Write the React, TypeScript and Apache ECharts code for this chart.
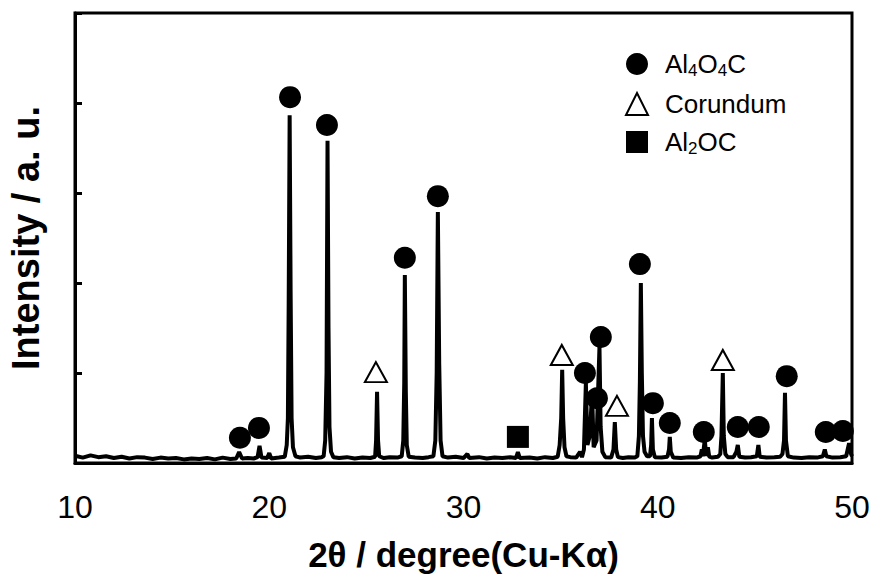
import React, { useEffect, useRef } from "react";
import * as echarts from "echarts";

// XRD pattern: [2θ (deg), intensity (a.u.)]
const pattern: [number, number][] = [
  [10.0, 1.6], [10.4, 1.2], [10.8, 1.7], [11.2, 1.3], [11.6, 1.5], [12.0, 1.1], [12.4, 1.4],
  [12.8, 1.0], [13.2, 1.3], [13.6, 1.2], [14.0, 0.9], [14.4, 1.2], [14.8, 1.0], [15.2, 1.1],
  [15.6, 0.8], [16.0, 1.0], [16.4, 0.9], [16.8, 1.1], [17.2, 0.8], [17.6, 1.2], [18.0, 0.9],
  [18.3, 1.0], [18.45, 2.4], [18.6, 1.0], [18.9, 1.1], [19.2, 1.0], [19.4, 1.3], [19.5, 3.8],
  [19.6, 1.2], [19.9, 1.1], [20.0, 2.2], [20.1, 1.0], [20.5, 1.2],
  [20.8, 1.4], [20.9, 4], [20.96, 10], [21.0, 35], [21.05, 77.3], [21.1, 38], [21.15, 10],
  [21.22, 3.5], [21.35, 1.5], [21.6, 1.2], [22.0, 1.4], [22.4, 1.1], [22.7, 1.3],
  [22.8, 1.5], [22.88, 5], [22.95, 20], [23.0, 71.6], [23.05, 30], [23.1, 8], [23.18, 2.5],
  [23.3, 1.3], [23.6, 1.1], [24.0, 1.3], [24.4, 1.0], [24.8, 1.2], [25.2, 1.1],
  [25.45, 1.4], [25.5, 5], [25.55, 15.8], [25.6, 5], [25.66, 1.5], [25.9, 1.1], [26.2, 1.3],
  [26.6, 1.2], [26.82, 1.5], [26.9, 5], [26.95, 18], [26.98, 41.8], [27.03, 16], [27.08, 4],
  [27.18, 1.4], [27.5, 1.2], [27.9, 1.1], [28.2, 1.3],
  [28.45, 1.5], [28.55, 5], [28.62, 20], [28.68, 55.8], [28.75, 22], [28.82, 5], [28.92, 1.5],
  [29.2, 1.2], [29.6, 1.4], [30.0, 1.1], [30.2, 2.0], [30.3, 1.1], [30.8, 1.3], [31.2, 1.0],
  [31.6, 1.2], [32.0, 1.1], [32.4, 1.3], [32.7, 1.1], [32.8, 2.4], [32.9, 1.1], [33.4, 1.2],
  [33.8, 1.0], [34.2, 1.3], [34.6, 1.1],
  [34.85, 1.4], [34.95, 4], [35.03, 10], [35.08, 20.7], [35.13, 10], [35.2, 3.5], [35.3, 1.5],
  [35.5, 1.3], [35.8, 1.2], [36.0, 2.5], [36.1, 1.3],
  [36.2, 3], [36.3, 17.8], [36.38, 4], [36.5, 6], [36.62, 15.6], [36.7, 3.5], [36.85, 5],
  [37.0, 25.8], [37.06, 8], [37.15, 2.5], [37.3, 1.3],
  [37.6, 1.2], [37.72, 3], [37.79, 9.1], [37.86, 3], [37.95, 1.3], [38.2, 1.1], [38.5, 1.3],
  [38.8, 1.2], [38.95, 1.5], [39.03, 6], [39.08, 18], [39.13, 40], [39.18, 20], [39.24, 6],
  [39.32, 2.5], [39.45, 1.5], [39.6, 1.5], [39.66, 4], [39.7, 10], [39.75, 3], [39.85, 1.3],
  [40.2, 1.2], [40.5, 1.4], [40.58, 3], [40.62, 5.8], [40.67, 2.5], [40.8, 1.2],
  [41.2, 1.1], [41.6, 1.3], [42.0, 1.2], [42.2, 1.5], [42.27, 3], [42.32, 1.5], [42.42, 5.1],
  [42.5, 1.6], [42.58, 3.5], [42.65, 1.4], [42.8, 1.2], [43.1, 1.4],
  [43.22, 2], [43.28, 6], [43.35, 20], [43.4, 6], [43.48, 2], [43.6, 1.3],
  [43.9, 1.3], [44.05, 2.5], [44.12, 4], [44.2, 1.4], [44.5, 1.2], [44.8, 1.3], [45.1, 1.5],
  [45.18, 4], [45.25, 1.4], [45.6, 1.2], [46.0, 1.3], [46.3, 1.4],
  [46.42, 2], [46.5, 5], [46.55, 15.6], [46.6, 5], [46.7, 1.5],
  [47.0, 1.2], [47.4, 1.1], [47.8, 1.3], [48.2, 1.2], [48.5, 1.5], [48.6, 3], [48.68, 1.5],
  [49.0, 1.2], [49.4, 1.3], [49.7, 1.5], [49.85, 4.4], [49.95, 2], [50.0, 1.5],
];

// Phase markers: [2θ, marker height]
const al4o4cMarks: [number, number][] = [
  [18.49, 5.6], [19.47, 7.8], [21.07, 81.3], [22.97, 75.1], [26.98, 45.6], [28.68, 59.3],
  [36.25, 20], [36.87, 14.4], [37.07, 28], [39.08, 44.2], [39.75, 13.3], [40.62, 8.9],
  [42.37, 6.9], [44.12, 8], [45.2, 8], [46.64, 19.3], [48.65, 6.9], [49.53, 7.1],
];
const corundumMarks: [number, number][] = [
  [25.49, 20.2], [35.06, 24], [37.9, 12.7], [43.35, 22.9],
];
const al2ocMarks: [number, number][] = [[32.8, 5.8]];

const xTicks = [10, 20, 30, 40, 50];

const FONT = "'Liberation Sans', Arial, sans-serif";

export default function App() {
  const ref = useRef<HTMLDivElement>(null);
  useEffect(() => {
    if (!ref.current) return;
    const chart = echarts.init(ref.current, undefined, { renderer: "svg" });
    const legendNames: Record<string, string> = {
      Al4O4C: "{n|Al}{s|4}{n|O}{s|4}{n|C}",
      Corundum: "{n|Corundum}",
      Al2OC: "{n|Al}{s|2}{n|OC}",
    };
    chart.setOption({
      animation: false,
      backgroundColor: "#fff",
      textStyle: { fontFamily: FONT },
      grid: {
        left: 75, right: 17, top: 13, bottom: 111,
        outerBoundsMode: "none",
        containLabel: false,
        show: true, borderColor: "#000", borderWidth: 3,
      },
      legend: {
        data: ["Al4O4C", "Corundum", "Al2OC"],
        orient: "vertical",
        left: 620,
        top: 46,
        itemWidth: 22,
        itemHeight: 22,
        itemGap: 12,
        formatter: (name: string) => legendNames[name],
        textStyle: {
          padding: [0, 0, 0, 12],
          rich: {
            n: { fontSize: 26, color: "#000", fontFamily: FONT, lineHeight: 30 },
            s: { fontSize: 17, color: "#000", fontFamily: FONT, lineHeight: 30, verticalAlign: "bottom", padding: [10, 0, 0, 0] },
          },
        },
      },
      xAxis: {
        type: "value",
        min: xTicks[0],
        max: xTicks[xTicks.length - 1],
        interval: 10,
        axisLine: { lineStyle: { color: "#000", width: 3 } },
        axisTick: { show: false },
        splitLine: { show: false },
        axisLabel: { color: "#000", fontSize: 32, fontFamily: FONT, margin: 28 },
        name: "2θ / degree(Cu-Kα)",
        nameLocation: "middle",
        nameGap: 74,
        nameTextStyle: { color: "#000", fontSize: 35, fontWeight: "bold", fontFamily: FONT },
      },
      yAxis: {
        type: "value",
        min: 0,
        max: 100,
        interval: 20,
        axisLine: { show: true, lineStyle: { color: "#000", width: 3 } },
        axisTick: { show: true, inside: true, length: 7, lineStyle: { color: "#000", width: 3 } },
        splitLine: { show: false },
        axisLabel: { show: false },
        name: "Intensity / a. u.",
        nameLocation: "middle",
        nameGap: 30,
        nameTextStyle: { color: "#000", fontSize: 38, fontWeight: "bold", fontFamily: FONT },
      },
      series: [
        {
          name: "pattern",
          type: "line",
          data: pattern,
          showSymbol: false,
          symbol: "none",
          lineStyle: { color: "#000", width: 4 },
          z: 2,
        },
        {
          name: "Al4O4C",
          type: "scatter",
          data: al4o4cMarks,
          symbol: "circle",
          symbolSize: 22,
          itemStyle: { color: "#000", opacity: 1 },
          z: 3,
        },
        {
          name: "Corundum",
          type: "scatter",
          data: corundumMarks,
          symbol: "triangle",
          symbolSize: [22, 20],
          itemStyle: { color: "#fff", borderColor: "#000", borderWidth: 2, opacity: 1 },
          z: 3,
        },
        {
          name: "Al2OC",
          type: "scatter",
          data: al2ocMarks,
          symbol: "rect",
          symbolSize: 22,
          itemStyle: { color: "#000", opacity: 1 },
          z: 3,
        },
      ],
    });
    return () => chart.dispose();
  }, []);
  return <div ref={ref} style={{ width: 869, height: 574, position: "absolute", left: 0, top: 0 }} />;
}
